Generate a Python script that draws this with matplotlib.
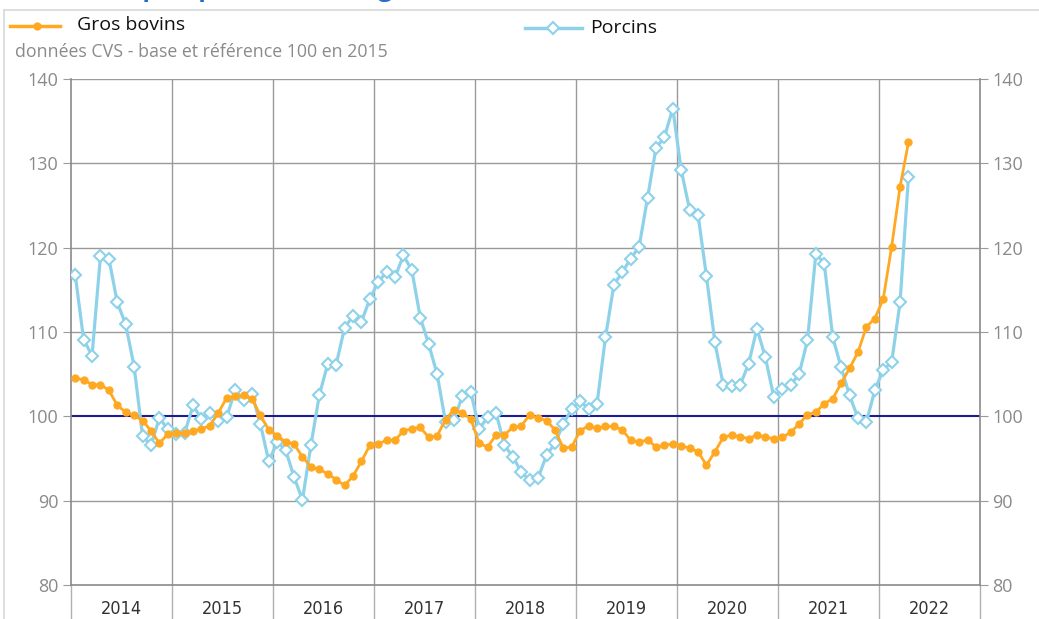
import matplotlib
matplotlib.use("Agg")
import matplotlib.pyplot as plt
from matplotlib.lines import Line2D
from matplotlib import font_manager as fm
import numpy as np

plt.rcParams['font.family'] = ['Open Sans', 'DejaVu Sans']

years = ['2014', '2015', '2016', '2017', '2018', '2019', '2020', '2021', '2022']
yticks = [80, 90, 100, 110, 120, 130, 140]

gros_bovins = [104.5, 104.35, 103.75, 103.75, 103.1, 101.3, 100.5, 100.1, 99.5, 98.3,
               96.8, 97.9, 98.0, 98.0, 98.3, 98.5, 98.9, 100.4, 102.2, 102.4,
               102.5, 102.1, 100.1, 98.4, 97.7, 96.95, 96.7, 95.2, 94.0, 93.7,
               93.2, 92.5, 91.8, 92.9, 94.65, 96.55, 96.7, 97.2, 97.15, 98.3,
               98.5, 98.7, 97.5, 97.7, 99.6, 100.8, 100.4, 99.7, 96.8, 96.35,
               97.8, 97.8, 98.7, 98.85, 100.2, 99.8, 99.5, 98.4, 96.2, 96.4,
               98.3, 98.9, 98.6, 98.8, 98.8, 98.4, 97.15, 96.95, 97.2, 96.4,
               96.55, 96.75, 96.5, 96.25, 95.8, 94.2, 95.8, 97.5, 97.8, 97.6,
               97.35, 97.8, 97.5, 97.35, 97.5, 98.1, 99.1, 100.2, 100.5, 101.5,
               102.1, 103.9, 105.7, 107.6, 110.6, 111.6, 113.9, 120.1, 127.2, 132.5]

porcins = [116.8, 109.1, 107.2, 119.0, 118.7, 113.5, 110.9, 105.9, 97.7, 96.55,
           99.8, 98.5, 97.9, 98.0, 101.3, 99.7, 100.4, 99.5, 99.9, 103.1,
           101.9, 102.7, 99.1, 94.65, 96.95, 96.0, 92.8, 90.1, 96.55, 102.5,
           106.2, 106.1, 110.5, 111.9, 111.2, 113.9, 115.95, 117.1, 116.5, 119.1,
           117.3, 111.7, 108.55, 105.0, 99.3, 99.6, 102.4, 102.9, 98.5, 99.9,
           100.4, 96.55, 95.2, 93.4, 92.4, 92.7, 95.4, 96.8, 99.1, 100.9,
           101.8, 100.9, 101.5, 109.35, 115.6, 117.1, 118.7, 120.1, 125.9, 131.8,
           133.1, 136.5, 129.2, 124.5, 123.9, 116.6, 108.8, 103.7, 103.6, 103.7,
           106.2, 110.4, 107.0, 102.3, 103.3, 103.7, 105.0, 109.0, 119.3, 118.1,
           109.4, 105.8, 102.5, 99.8, 99.3, 103.1, 105.5, 106.4, 113.5, 128.4]

# find a condensed / narrow font for the year labels if available
cond_prop = None
for f in fm.fontManager.ttflist:
    nm = f.name.lower()
    fname = f.fname.lower()
    if ('narrow' in nm or 'condensed' in nm or 'condensed' in fname or 'narrow' in fname) \
            and f.style == 'normal' and ('bold' not in fname):
        cond_prop = fm.FontProperties(fname=f.fname, size=13)
        break
if cond_prop is None:
    cond_prop = fm.FontProperties(family='Open Sans', size=11.5)

W, H = 1039, 619
fig = plt.figure(figsize=(W / 100, H / 100), dpi=100)
ax = fig.add_axes([71 / W, 1 - 585 / H, (980 - 71) / W, (585 - 79) / H])

x = np.arange(len(gros_bovins)) + 0.5
orange = '#FFA922'
blue = '#8ED2EA'

nyears = len(years)
ax.set_xlim(0, 12 * nyears)
ax.set_ylim(80, 140)

grid_c = '#9a9a9a'
for v in yticks[1:]:
    if v == 100:
        continue
    ax.axhline(v, color=grid_c, lw=1.0, zorder=1)
for k in range(1, nyears):
    ax.axvline(12 * k, color=grid_c, lw=1.0, zorder=1)
for k in range(0, nyears + 1):
    ax.plot([12 * k, 12 * k], [0, -0.07], transform=ax.get_xaxis_transform(),
            color='#b0b0b0', lw=1.0, clip_on=False)
ax.axhline(100, color='#1c1c96', lw=1.5, zorder=2)

ax.plot(x, porcins, color=blue, lw=2.3, marker='D', markersize=6.3,
        markerfacecolor='white', markeredgecolor=blue, markeredgewidth=1.5, zorder=3)
ax.plot(x, gros_bovins, color=orange, lw=2.0, marker='o', markersize=5,
        markerfacecolor=orange, markeredgecolor=orange, zorder=4)

ax.spines['top'].set_visible(False)
for s in ['left', 'right', 'bottom']:
    ax.spines[s].set_color('#8a8a8a')
    ax.spines[s].set_linewidth(1.2)

ax.set_yticks(yticks)
ax.set_yticklabels([str(v) for v in yticks])
ax.tick_params(axis='y', which='both', left=True, right=True, labelleft=True,
               labelright=True, length=6, color='#9a9a9a', labelsize=13,
               labelcolor='#8a8a8a', pad=3)
ax.set_xticks([6 + 12 * k for k in range(nyears)])
ax.set_xticklabels(years, fontproperties=cond_prop, color='#333333')
ax.tick_params(axis='x', length=0, pad=11)

# Legend
fig.add_artist(Line2D([10 / W, 60 / W], [1 - 26 / H, 1 - 26 / H], color=orange, lw=2.5))
fig.add_artist(Line2D([37 / W], [1 - 26 / H], color=orange, marker='o', markersize=5,
                      linestyle='none'))
fig.text(77 / W, 1 - 25 / H, 'Gros bovins', fontsize=14, color='#111111', va='center')
fig.add_artist(Line2D([525 / W, 582 / W], [1 - 28 / H, 1 - 28 / H], color=blue, lw=2.5))
fig.add_artist(Line2D([553 / W], [1 - 28 / H], color=blue, marker='D', markersize=6,
                      markerfacecolor='white', markeredgewidth=1.5, linestyle='none'))
fig.text(590 / W, 1 - 28 / H, 'Porcins', fontsize=14, color='#111111', va='center')

fig.text(15 / W, 1 - 52 / H, 'données CVS - base et référence 100 en 2015',
         fontsize=12.8, color='#8a8a8a', va='center')

# Truncated title at the very top (cut off like in the reference)
fig.text(-2 / W, 1 + 4 / H, 'Indices des prix porcins et des gros bovins',
         fontsize=18, fontweight='bold', color='#2a6ad0', va='baseline')

# Frame lines
fig.add_artist(Line2D([4 / W, 4 / W], [0, 1 - 10 / H], color='#d8d8d8', lw=1.2))
fig.add_artist(Line2D([4 / W, 1], [1 - 10 / H, 1 - 10 / H], color='#d8d8d8', lw=1.2))

fig.savefig('out.png', dpi=100)
